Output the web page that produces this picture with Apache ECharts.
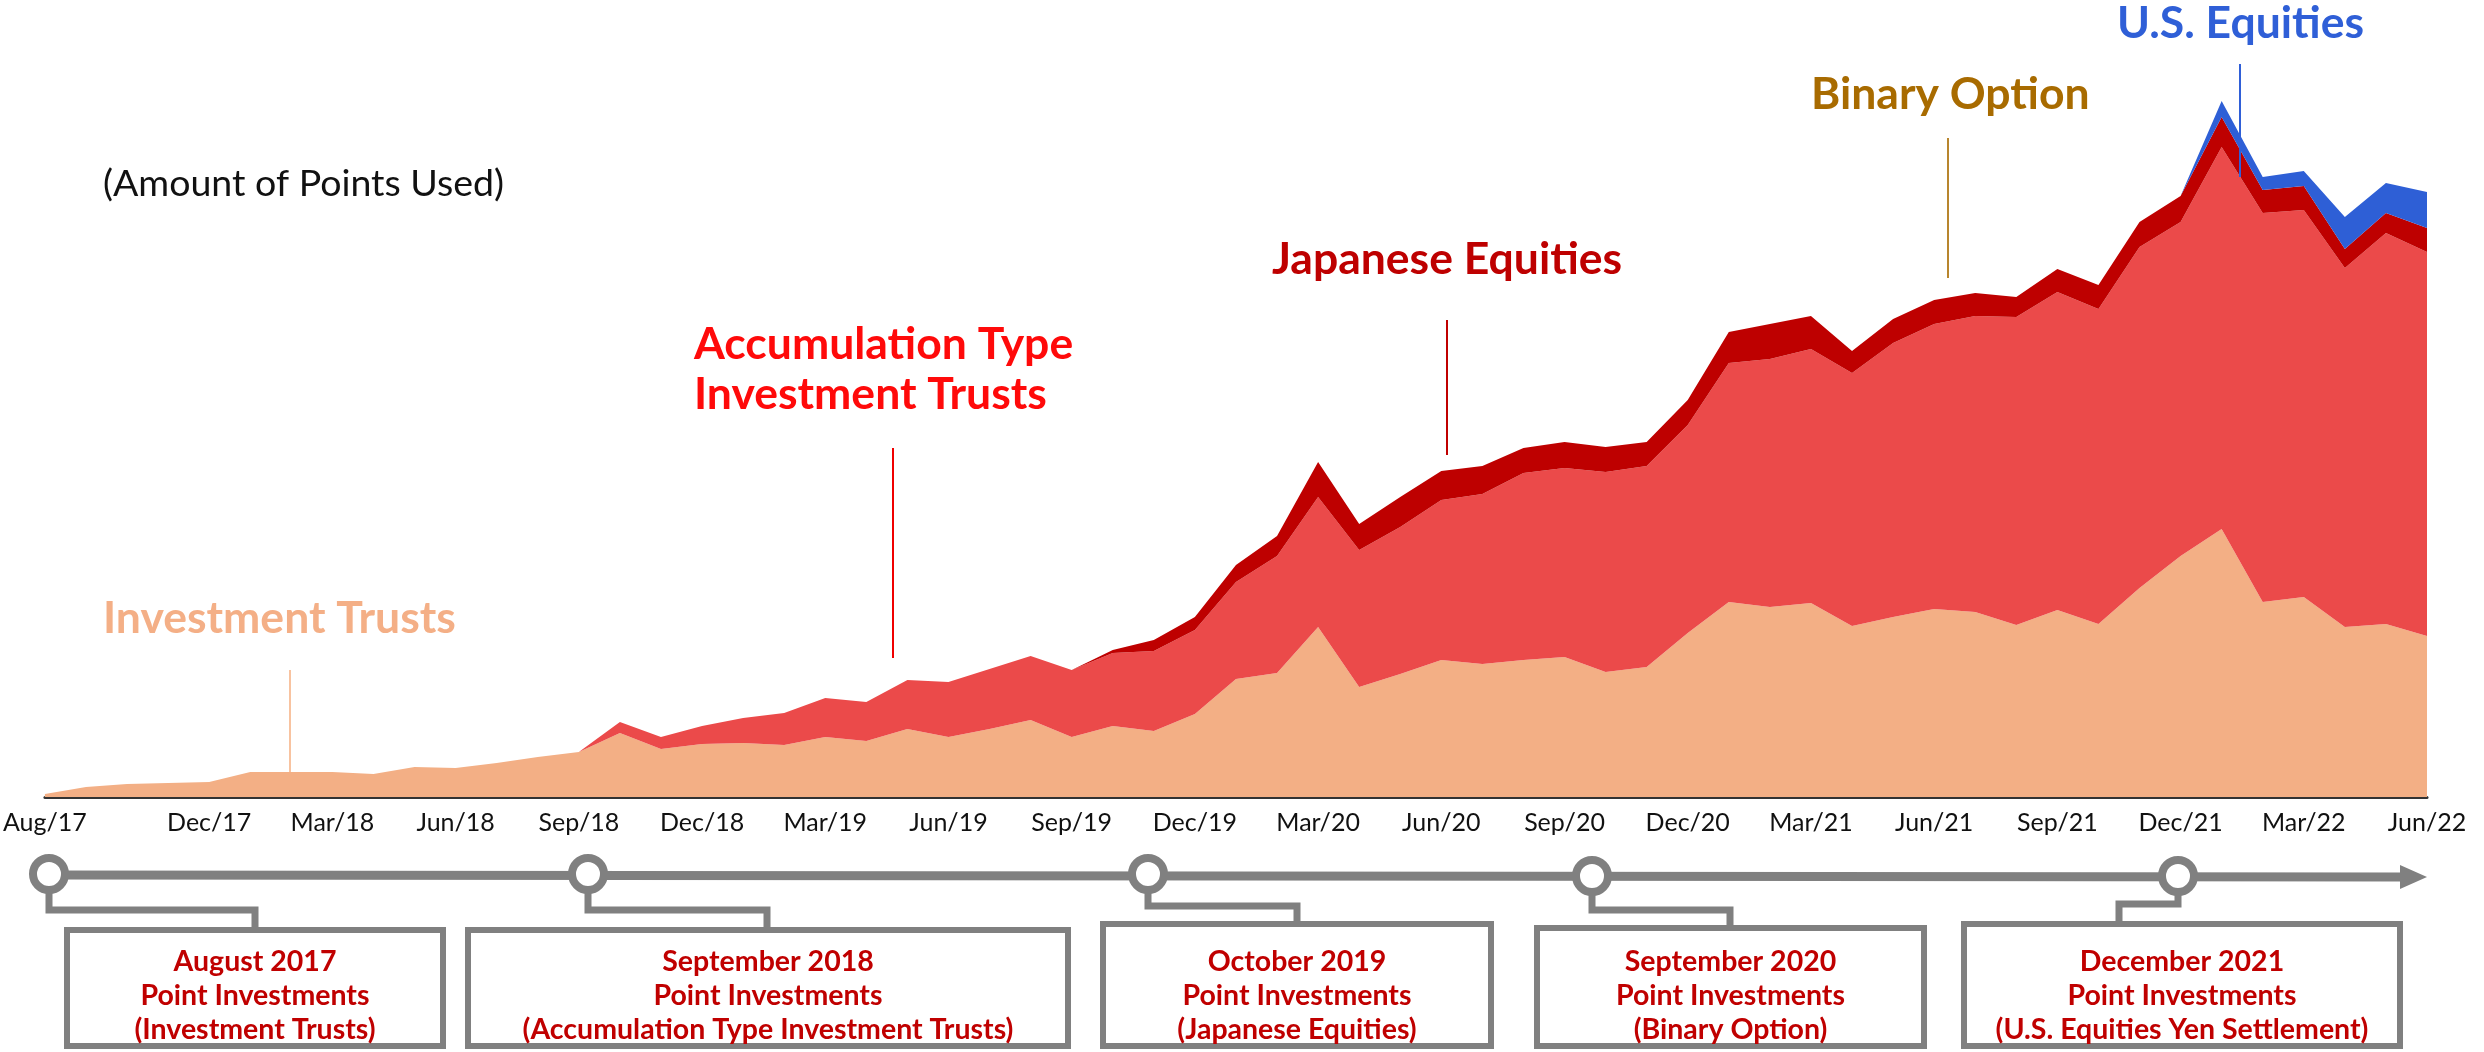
<!DOCTYPE html>
<html>
<head>
<meta charset="utf-8">
<script src="https://cdn.jsdelivr.net/npm/echarts@6/dist/echarts.min.js"></script>
<style>
  html, body { margin: 0; padding: 0; background: #ffffff; }
  #chart { width: 2484px; height: 1052px; }
</style>
</head>
<body>
<div id="chart"></div>
<script>
// Months on the horizontal axis (Aug 2017 - Jun 2022)
const months = [
  'Aug/17','Sep/17','Oct/17','Nov/17','Dec/17',
  'Jan/18','Feb/18','Mar/18','Apr/18','May/18','Jun/18','Jul/18','Aug/18','Sep/18','Oct/18','Nov/18','Dec/18',
  'Jan/19','Feb/19','Mar/19','Apr/19','May/19','Jun/19','Jul/19','Aug/19','Sep/19','Oct/19','Nov/19','Dec/19',
  'Jan/20','Feb/20','Mar/20','Apr/20','May/20','Jun/20','Jul/20','Aug/20','Sep/20','Oct/20','Nov/20','Dec/20',
  'Jan/21','Feb/21','Mar/21','Apr/21','May/21','Jun/21','Jul/21','Aug/21','Sep/21','Oct/21','Nov/21','Dec/21',
  'Jan/22','Feb/22','Mar/22','Apr/22','May/22','Jun/22'
];

// Months that carry a tick label
const tickLabels = [
  'Aug/17','Dec/17','Mar/18','Jun/18','Sep/18','Dec/18','Mar/19','Jun/19','Sep/19','Dec/19',
  'Mar/20','Jun/20','Sep/20','Dec/20','Mar/21','Jun/21','Sep/21','Dec/21','Mar/22','Jun/22'
];

// Amount of points used, by product (relative units)
const investmentTrusts = [
  3, 10, 13, 14, 15, 25, 25, 25, 23, 30,
  29, 34, 40, 45, 64, 48, 53, 54, 52, 60,
  56, 68, 60, 68, 77, 60, 71, 66, 83, 118,
  124, 170, 110, 123, 137, 133, 137, 140, 125, 130,
  164, 195, 190, 194, 171, 180, 188, 185, 172, 187,
  173, 209, 241, 268, 195, 200, 170, 173, 161
];
const accumulationTrusts = [
  null, null, null, null, null, null, null, null, null, null,
  null, null, null, 0, 11, 12, 18, 25, 32, 39,
  39, 49, 55, 60, 64, 67, 73, 80, 84, 97,
  117, 130, 137, 147, 160, 170, 187, 189, 200, 201,
  208, 239, 248, 254, 253, 274, 285, 296, 308, 318,
  315, 341, 334, 382, 389, 387, 359, 391, 384
];
const japaneseEquities = [
  null, null, null, null, null, null, null, null, null, null,
  null, null, null, null, null, null, null, null, null, null,
  null, null, null, null, null, 0, 3, 11, 13, 17,
  20, 35, 26, 30, 29, 28, 25, 26, 25, 24,
  25, 31, 35, 33, 22, 24, 24, 23, 20, 23,
  24, 25, 26, 30, 23, 24, 19, 20, 24
];
const usEquities = [
  null, null, null, null, null, null, null, null, null, null,
  null, null, null, null, null, null, null, null, null, null,
  null, null, null, null, null, null, null, null, null, null,
  null, null, null, null, null, null, null, null, null, null,
  null, null, null, null, null, null, null, null, null, null,
  null, null, 0, 16, 13, 15, 32, 30, 36
];

const FONT = 'Lato, "Noto Sans", sans-serif';
const GRAY = '#808080';

// Product callouts: label text, colour, label anchor and leader line (month position, from/to level)
const callouts = [
  { text: ['Investment Trusts'], color: '#F4AF86', lineColor: '#F8C3A0', x: 103, y: 619, at: 5.97, from: 127, to: 25 },
  { text: ['Accumulation Type', 'Investment Trusts'], color: '#FF0A0A', lineColor: '#F00000', x: 694, y: 345, at: 20.64, from: 349, to: 139 },
  { text: ['Japanese Equities'], color: '#BE0000', lineColor: '#C00000', x: 1272, y: 260, at: 34.13, from: 477, to: 342 },
  { text: ['Binary Option'], color: '#A86B00', lineColor: '#B8862E', x: 1811, y: 95, at: 46.32, from: 659, to: 519 },
  { text: ['U.S. Equities'], color: '#2F5FD7', lineColor: '#2F5FD7', x: 2117, y: 24, at: 53.45, from: 733, to: 620 }
];

// Service launch timeline under the chart
const milestones = [
  { cx: 49,   cy: 874, elbowY: 910, dropX: 255,  box: [64, 927, 446, 1049],   lines: ['August 2017', 'Point Investments', '(Investment Trusts)'] },
  { cx: 588,  cy: 874, elbowY: 910, dropX: 767,  box: [465, 927, 1071, 1049],  lines: ['September 2018', 'Point Investments', '(Accumulation Type Investment Trusts)'] },
  { cx: 1148, cy: 874, elbowY: 906, dropX: 1297, box: [1100, 921, 1494, 1049], lines: ['October 2019', 'Point Investments', '(Japanese Equities)'] },
  { cx: 1592, cy: 876, elbowY: 910, dropX: 1730, box: [1534, 925, 1927, 1049], lines: ['September 2020', 'Point Investments', '(Binary Option)'] },
  { cx: 2178, cy: 876, elbowY: 904, dropX: 2119, box: [1961, 921, 2403, 1049], lines: ['December 2021', 'Point Investments', '(U.S. Equities Yen Settlement)'] }
];

function areaSeries(name, values, color) {
  return {
    name, type: 'line', stack: 'points', data: values,
    symbol: 'none', showSymbol: false, connectNulls: false,
    lineStyle: { width: 0 },
    areaStyle: { color, opacity: 1 },
    itemStyle: { color },
    emphasis: { disabled: true }
  };
}

const graphics = [];

graphics.push({
  type: 'text', x: 103, y: 184, z: 100,
  style: { text: '(Amount of Points Used)', font: '37.5px ' + FONT, fill: '#111111', textAlign: 'left', textVerticalAlign: 'middle' }
});

callouts.forEach(c => {
  c.text.forEach((t, k) => {
    graphics.push({
      type: 'text', x: c.x, y: c.y + k * 50, z: 100,
      style: { text: t, font: 'bold 44.5px ' + FONT, fill: c.color, textAlign: 'left', textVerticalAlign: 'middle' }
    });
  });
});

// timeline axis with arrow head
graphics.push({ type: 'line', z: 100, shape: { x1: 49, y1: 875, x2: 2404, y2: 877 }, style: { stroke: GRAY, lineWidth: 9 } });
graphics.push({ type: 'polygon', z: 100, shape: { points: [[2400, 865], [2427, 877], [2400, 889]] }, style: { fill: GRAY } });

milestones.forEach(m => {
  graphics.push({
    type: 'polyline', z: 100,
    shape: { points: [[m.cx, m.cy], [m.cx, m.elbowY], [m.dropX, m.elbowY], [m.dropX, m.box[1]]] },
    style: { stroke: GRAY, lineWidth: 7, fill: null, lineJoin: 'miter' }
  });
  graphics.push({
    type: 'rect', z: 101,
    shape: { x: m.box[0] + 3, y: m.box[1] + 3, width: m.box[2] - m.box[0] - 6, height: m.box[3] - m.box[1] - 6 },
    style: { stroke: GRAY, lineWidth: 6, fill: '#ffffff' }
  });
  graphics.push({
    type: 'circle', z: 102,
    shape: { cx: m.cx, cy: m.cy, r: 16 },
    style: { stroke: GRAY, lineWidth: 8, fill: '#ffffff' }
  });
  const mid = (m.box[0] + m.box[2]) / 2;
  m.lines.forEach((t, k) => {
    graphics.push({
      type: 'text', x: mid, y: 962 + k * 34, z: 103,
      style: { text: t, font: 'bold 28.5px ' + FONT, fill: '#C00000', textAlign: 'center', textVerticalAlign: 'middle' }
    });
  });
});

const chart = echarts.init(document.getElementById('chart'), null, { renderer: 'canvas' });

chart.setOption({
  animation: false,
  backgroundColor: '#ffffff',
  grid: { left: 40, right: 57, top: 17, bottom: 255, containLabel: false },
  xAxis: [
    {
      type: 'category', data: months, boundaryGap: false,
      axisLine: { show: true, onZero: false, lineStyle: { color: '#333333', width: 3 } },
      axisTick: { show: false },
      splitLine: { show: false },
      axisLabel: {
        interval: 0, margin: 13, color: '#111111', fontSize: 25, fontFamily: FONT,
        formatter: m => (tickLabels.indexOf(m) >= 0 ? m : '')
      }
    },
    // continuous month scale used to place the callout leader lines
    { type: 'value', min: 0, max: months.length - 1, show: false }
  ],
  yAxis: { type: 'value', min: 0, max: 780, show: false },
  series: [
    areaSeries('Investment Trusts', investmentTrusts, '#F3AF85'),
    areaSeries('Accumulation Type Investment Trusts', accumulationTrusts, '#EB4A4A'),
    areaSeries('Japanese Equities', japaneseEquities, '#BE0000'),
    areaSeries('U.S. Equities', usEquities, '#2E5FD6'),
    {
      name: 'callout lines', type: 'line', xAxisIndex: 1, data: [], silent: true,
      markLine: {
        silent: true, symbol: 'none', animation: false,
        label: { show: false },
        data: callouts.map(c => [
          { coord: [c.at, c.from], lineStyle: { color: c.lineColor, width: 2, type: 'solid' } },
          { coord: [c.at, c.to] }
        ])
      }
    }
  ],
  graphic: graphics
});
</script>
</body>
</html>
